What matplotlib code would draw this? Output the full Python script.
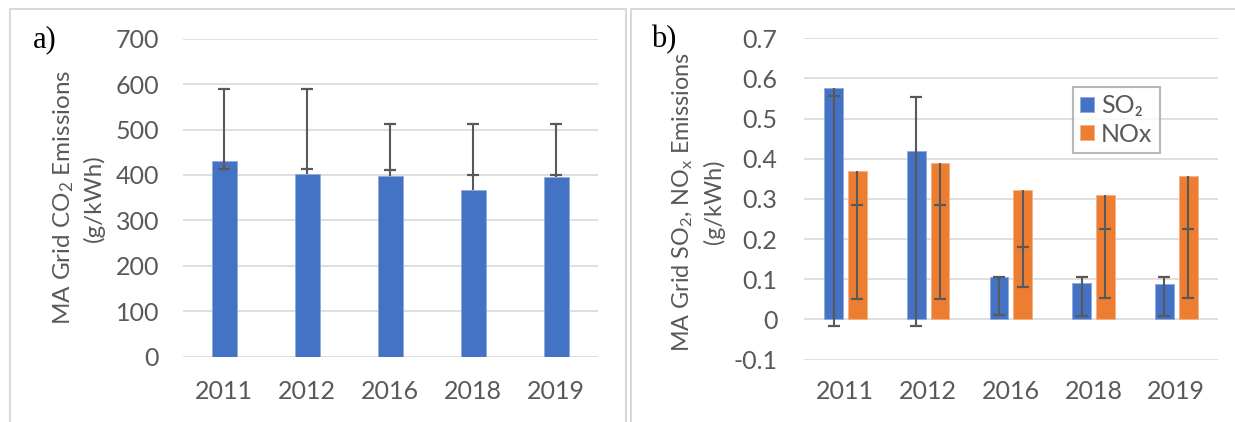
import matplotlib
matplotlib.use("Agg")
import matplotlib.pyplot as plt
from matplotlib.patches import Rectangle
import numpy as np

# ---------------- data ----------------
years = ["2011", "2012", "2016", "2018", "2019"]

co2_values = [431, 403, 398, 366, 396]
co2_cap_upper = [590, 590, 512, 513, 513]
co2_cap_lower = [414, 414, 411, 400, 400]

so2_values = [0.576, 0.419, 0.105, 0.091, 0.088]
so2_cap_upper = [0.555, 0.554, 0.105, 0.105, 0.105]
so2_cap_lower = [-0.017, -0.017, 0.011, 0.0075, 0.0075]

nox_values = [0.369, 0.389, 0.323, 0.310, 0.358]
nox_cap_upper = [0.2855, 0.2855, 0.179, 0.226, 0.226]
nox_cap_lower = [0.050, 0.050, 0.0805, 0.054, 0.054]

a_yticks = [0, 100, 200, 300, 400, 500, 600, 700]
b_yticks = [-0.1, 0, 0.1, 0.2, 0.3, 0.4, 0.5, 0.6, 0.7]
b_yticklabels = ["-0.1", "0", "0.1", "0.2", "0.3", "0.4", "0.5", "0.6", "0.7"]

# ---------------- style ----------------
plt.rcParams['font.family'] = ['Lato', 'DejaVu Sans']
plt.rcParams['mathtext.fontset'] = 'custom'
plt.rcParams['mathtext.rm'] = 'Lato'
plt.rcParams['mathtext.it'] = 'Lato:italic'
plt.rcParams['mathtext.bf'] = 'Lato:bold'

BLUE = "#4472C4"
ORANGE = "#ED7D31"
GRID = "#D9D9D9"
TEXT = "#595959"
ERR = "#595959"
FS = 18
LFS = 17.5

W, H = 1235, 422
fig = plt.figure(figsize=(W / 100, H / 100), dpi=100)


def px_rect(x0, y0, x1, y1):
    return [x0 / W, 1 - y1 / H, (x1 - x0) / W, (y1 - y0) / H]


def draw_err(ax, x, vals, ups, lows):
    for xi, v, u, l in zip(x, vals, ups, lows):
        top = max(v, u, l)
        bot = min(v, u, l)
        ax.vlines(xi, bot, top, color=ERR, lw=1.5, zorder=4)
    ax.plot(x, ups, linestyle='none', marker='_', markersize=9,
            markeredgewidth=1.6, color=ERR, zorder=5)
    ax.plot(x, lows, linestyle='none', marker='_', markersize=9,
            markeredgewidth=1.6, color=ERR, zorder=5)


def style_axes(ax):
    for s in ax.spines.values():
        s.set_visible(False)
    ax.grid(axis='y', color=GRID, lw=1.2, zorder=0)
    ax.set_axisbelow(True)
    ax.tick_params(axis='both', length=0, labelsize=FS, colors=TEXT)


# ---------------- panel a ----------------
axa = fig.add_axes(px_rect(182.7, 38.7, 597.7, 356.7))
xa = np.arange(len(years))
axa.bar(xa, co2_values, width=0.305, color=BLUE, edgecolor="#8FAADC",
        linewidth=0.6, zorder=2)
draw_err(axa, xa, co2_values, co2_cap_upper, co2_cap_lower)
axa.set_xlim(-0.5, len(years) - 0.5)
axa.set_ylim(0, 700)
axa.set_yticks(a_yticks)
axa.set_xticks(xa)
axa.set_xticklabels(years)
style_axes(axa)
axa.tick_params(axis='y', pad=17)
axa.tick_params(axis='x', pad=17)
axa.text(-0.252, 0.5, "MA Grid CO$_2$ Emissions\n(g/kWh)", transform=axa.transAxes,
         rotation=90, ha='center', va='center', multialignment='center',
         fontsize=LFS, color=TEXT, linespacing=1.4)

# ---------------- panel b ----------------
axb = fig.add_axes(px_rect(804, 38.2, 1217.7, 359.5))
xb = np.arange(len(years))
off = 0.143
bw = 0.226
axb.bar(xb - off, so2_values, width=bw, color=BLUE, edgecolor="#8FAADC",
        linewidth=0.6, zorder=2, label="SO\u2082")
axb.bar(xb + off, nox_values, width=bw, color=ORANGE, edgecolor="#F4B183",
        linewidth=0.6, zorder=2, label="NOx")
draw_err(axb, xb - off, so2_values, so2_cap_upper, so2_cap_lower)
draw_err(axb, xb + off, nox_values, nox_cap_upper, nox_cap_lower)
axb.set_xlim(-0.5, len(years) - 0.5)
axb.set_ylim(-0.1, 0.7)
axb.set_yticks(b_yticks)
axb.set_yticklabels(b_yticklabels)
axb.set_xticks(xb)
axb.set_xticklabels(years)
style_axes(axb)
axb.tick_params(axis='y', pad=19)
axb.tick_params(axis='x', pad=15)
axb.text(-0.256, 0.49, "MA Grid SO$_2$, NO$_{\\mathrm{x}}$ Emissions\n(g/kWh)",
         transform=axb.transAxes, rotation=90, ha='center', va='center',
         multialignment='center', fontsize=16.8, color=TEXT, linespacing=1.45)
leg = axb.legend(loc='upper left', bbox_to_anchor=(0.65, 0.848), frameon=True,
                 fancybox=False, fontsize=FS, handlelength=0.55, handleheight=0.55,
                 handletextpad=0.3, labelspacing=0.22, borderpad=0.28,
                 borderaxespad=0)
leg.get_frame().set_edgecolor("#A6A6A6")
leg.get_frame().set_linewidth(1.5)
for t in leg.get_texts():
    t.set_color(TEXT)
    t.set_family(['Lato', 'DejaVu Sans'])

# ---------------- panel labels & frames ----------------
fig.text(33 / W, 1 - 47 / H, "a)", family="Liberation Serif", fontsize=22,
         va='baseline', ha='left', color='black')
fig.text(651 / W, 1 - 47 / H, "b)", family="Liberation Serif", fontsize=22,
         va='baseline', ha='left', color='black')

fig.add_artist(Rectangle((9.5 / W, -0.05), (626 - 9.5) / W, (1 - 8.5 / H) + 0.05,
                         transform=fig.transFigure, fill=False,
                         edgecolor=GRID, lw=1.5))
fig.add_artist(Rectangle((630.5 / W, -0.05), 0.6, (1 - 8.5 / H) + 0.05,
                         transform=fig.transFigure, fill=False,
                         edgecolor=GRID, lw=1.5))

fig.savefig("out.png", dpi=100, facecolor='white')
